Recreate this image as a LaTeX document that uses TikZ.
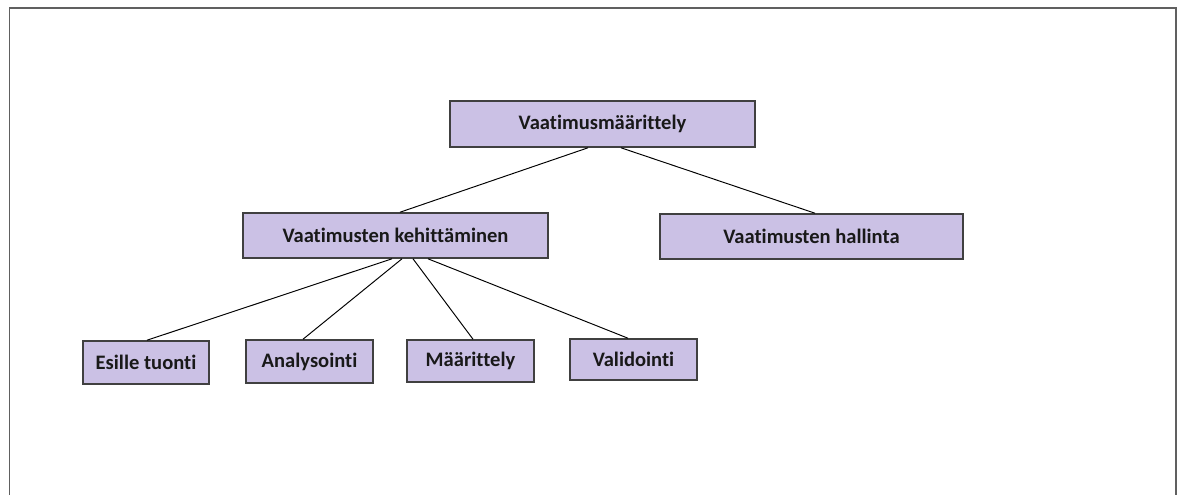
\documentclass[tikz,border=0pt]{standalone}
\usepackage{fontspec}
\setmainfont{Carlito}[Ligatures=NoCommon]
\definecolor{boxfill}{RGB}{203,193,229}
\definecolor{boxline}{RGB}{64,64,64}
\definecolor{framegray}{RGB}{96,96,96}
\begin{document}
\begin{tikzpicture}[x=0.02cm,y=-0.02cm,
  box/.style={draw=boxline,line width=0.9pt,fill=boxfill,inner sep=0pt,
    font=\fontsize{11.7}{14}\selectfont\bfseries,text=black!90},
  link/.style={draw=black,line width=0.55pt}]
\useasboundingbox (0,0) rectangle (1181,495);
% outer frame, open at the bottom
\draw[framegray,line width=1.1pt] (9.5,495) -- (9.5,8) -- (1176,8) -- (1176,495);

% boxes
\node[box,minimum width=6.1cm,minimum height=0.92cm] (top) at (602.5,124) {Vaatimusmäärittely};
\node[box,minimum width=6.1cm,minimum height=0.9cm] (keh) at (395.5,235.5) {Vaatimusten kehittäminen};
\node[box,minimum width=6.06cm,minimum height=0.9cm] (hal) at (811.5,236.5) {Vaatimusten hallinta};
\node[box,minimum width=2.52cm,minimum height=0.86cm] (esi) at (146,362.5) {Esille tuonti};
\node[box,minimum width=2.54cm,minimum height=0.86cm] (ana) at (309.5,361.5) {Analysointi};
\node[box,minimum width=2.54cm,minimum height=0.84cm] (maa) at (470.5,361) {Määrittely};
\node[box,minimum width=2.54cm,minimum height=0.82cm] (val) at (633.5,359.5) {Validointi};

% connectors
\draw[link] ([xshift=-0.29cm]top.south) -- ([xshift=0.09cm]keh.north);
\draw[link] ([xshift=0.37cm]top.south) -- ([xshift=0.07cm]hal.north);
\draw[link] ([xshift=-0.07cm]keh.south) -- ([xshift=0.02cm]esi.north);
\draw[link] ([xshift=0.13cm]keh.south) -- ([xshift=-0.13cm]ana.north);
\draw[link] ([xshift=0.35cm]keh.south) -- ([xshift=0.05cm]maa.north);
\draw[link] ([xshift=0.65cm]keh.south) -- ([xshift=-0.11cm]val.north);
\end{tikzpicture}
\end{document}
